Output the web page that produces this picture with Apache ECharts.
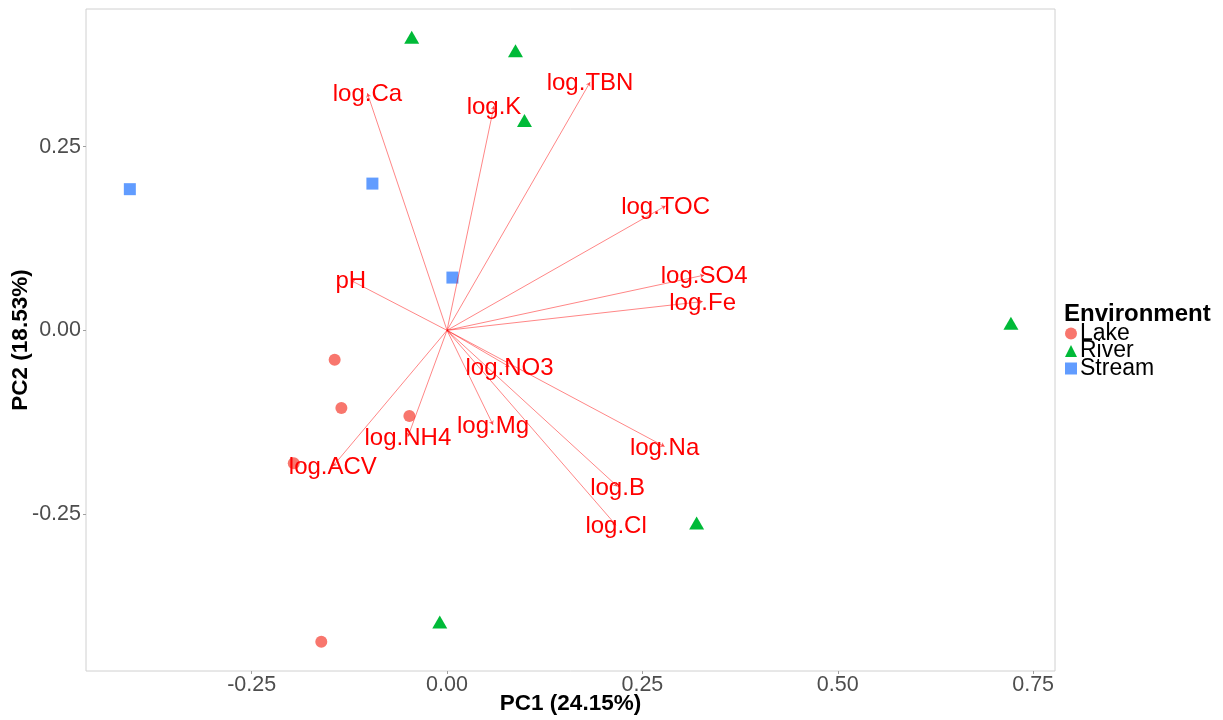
<!DOCTYPE html>
<html>
<head>
<meta charset="utf-8">
<script src="https://cdn.jsdelivr.net/npm/echarts@6/dist/echarts.min.js"></script>
<style>
html,body{margin:0;padding:0;background:#fff;}
#chart{width:1223px;height:720px;}
</style>
</head>
<body>
<div id="chart"></div>
<script>
// ---- data ----
const categories = ['Lake', 'River', 'Stream'];
const lakePoints = [[-0.1438, -0.0401], [-0.1352, -0.1058], [-0.0482, -0.1166], [-0.1961, -0.1809], [-0.1609, -0.4237]];
const riverPoints = [[-0.0452, 0.3989], [0.0876, 0.3806], [0.0991, 0.2854], [0.7216, 0.0098], [0.3194, -0.2622], [-0.0093, -0.3969]];
const streamPoints = [[-0.4059, 0.1921], [-0.0955, 0.1997], [0.0069, 0.0718]];
const loadingNames = ['pH', 'log.Ca', 'log.K', 'log.TBN', 'log.TOC', 'log.SO4', 'log.Fe', 'log.NO3', 'log.Mg', 'log.NH4', 'log.ACV', 'log.Na', 'log.B', 'log.Cl'];
const loadingPC1 = [-0.1231, -0.1019, 0.0601, 0.1830, 0.2797, 0.3290, 0.3271, 0.0799, 0.0588, -0.0501, -0.1461, 0.2784, 0.2182, 0.2163];
const loadingPC2 = [0.0680, 0.3226, 0.3054, 0.3376, 0.1693, 0.0751, 0.0392, -0.0496, -0.1285, -0.1449, -0.1850, -0.1581, -0.2125, -0.2652];
const xTicks = [-0.25, 0, 0.25, 0.5, 0.75];
const yTicks = [-0.25, 0, 0.25];
const xTitle = 'PC1 (24.15%)';
const yTitle = 'PC2 (18.53%)';
const legendTitle = 'Environment';

// ---- chart ----
const FONT = 'Liberation Sans, Arial, Helvetica, sans-serif';
const fmt = v => (Math.abs(v) < 1e-9 ? 0 : v).toFixed(2);
const chart = echarts.init(document.getElementById('chart'), null, {renderer: 'canvas'});

const arrowData = loadingNames.map((n, i) => ({name: n, coords: [[0, 0], [loadingPC1[i], loadingPC2[i]]]}));
const labelData = loadingNames.map((n, i) => ({name: n, value: [loadingPC1[i], loadingPC2[i]]}));

const axisCommon = {
  type: 'value',
  axisLine: {show: false, onZero: false},
  splitLine: {show: false},
  nameMoveOverlap: false,
  nameTextStyle: {fontFamily: FONT, fontWeight: 'bold', fontSize: 22.5, color: '#000'}
};
const tickStyle = {show: true, length: 3, lineStyle: {color: '#A0A0A0', width: 1}};

chart.setOption({
  backgroundColor: '#fff',
  animation: false,
  textStyle: {fontFamily: FONT},
  grid: {left: 86, right: 168, top: 9, bottom: 49, containLabel: false, outerBoundsMode: 'none',
         show: true, borderColor: '#D0D0D0', borderWidth: 1, backgroundColor: '#fff'},
  title: {
    text: legendTitle, left: 1064, top: 302, padding: 0,
    textStyle: {fontFamily: FONT, fontWeight: 'bold', fontSize: 24, color: '#000'}
  },
  legend: {
    data: categories, orient: 'vertical', left: 1065, top: 322, padding: 0,
    itemWidth: 12, itemHeight: 12, itemGap: -5.5,
    textStyle: {fontFamily: FONT, fontSize: 23, color: '#000', padding: [2, 0, 0, -2]}
  },
  xAxis: Object.assign({}, axisCommon, {
    min: -0.462, max: 0.778,
    name: xTitle, nameLocation: 'middle', nameGap: 21,
    axisTick: Object.assign({}, tickStyle, {customValues: xTicks}),
    axisLabel: {customValues: xTicks, formatter: fmt, margin: 3, fontFamily: FONT, fontSize: 21.5, color: '#4D4D4D'}
  }),
  yAxis: Object.assign({}, axisCommon, {
    min: -0.4636, max: 0.4373,
    name: yTitle, nameLocation: 'middle', nameGap: 54, nameRotate: 90,
    axisTick: Object.assign({}, tickStyle, {customValues: yTicks}),
    axisLabel: {customValues: yTicks, formatter: fmt, margin: 5, fontFamily: FONT, fontSize: 21.5, color: '#4D4D4D'}
  }),
  series: [
    {name: 'Lake', type: 'scatter', data: lakePoints, symbol: 'circle', symbolSize: 12, itemStyle: {color: '#F8766D', opacity: 1}, z: 2},
    {name: 'River', type: 'scatter', data: riverPoints, symbol: 'triangle', symbolSize: [15, 13], itemStyle: {color: '#00BA38', opacity: 1}, z: 2},
    {name: 'Stream', type: 'scatter', data: streamPoints, symbol: 'rect', symbolSize: 12, itemStyle: {color: '#619CFF', opacity: 1}, z: 2},
    {
      name: 'loadings', type: 'lines', coordinateSystem: 'cartesian2d', data: arrowData,
      symbol: ['none', 'arrow'], symbolSize: 4, silent: true,
      lineStyle: {color: '#FF0000', width: 0.8, opacity: 0.6, curveness: 0}, z: 3
    },
    {
      name: 'loadingLabels', type: 'scatter', data: labelData, symbolSize: 1, silent: true, z: 4,
      itemStyle: {color: 'rgba(0,0,0,0)'},
      label: {show: true, position: 'inside', offset: [0, 1.5], formatter: '{b}', fontFamily: FONT, fontSize: 24,
              color: '#FF0000', opacity: 1, textBorderWidth: 0, textShadowBlur: 0},
      emphasis: {disabled: true}
    }
  ]
});
</script>
</body>
</html>
